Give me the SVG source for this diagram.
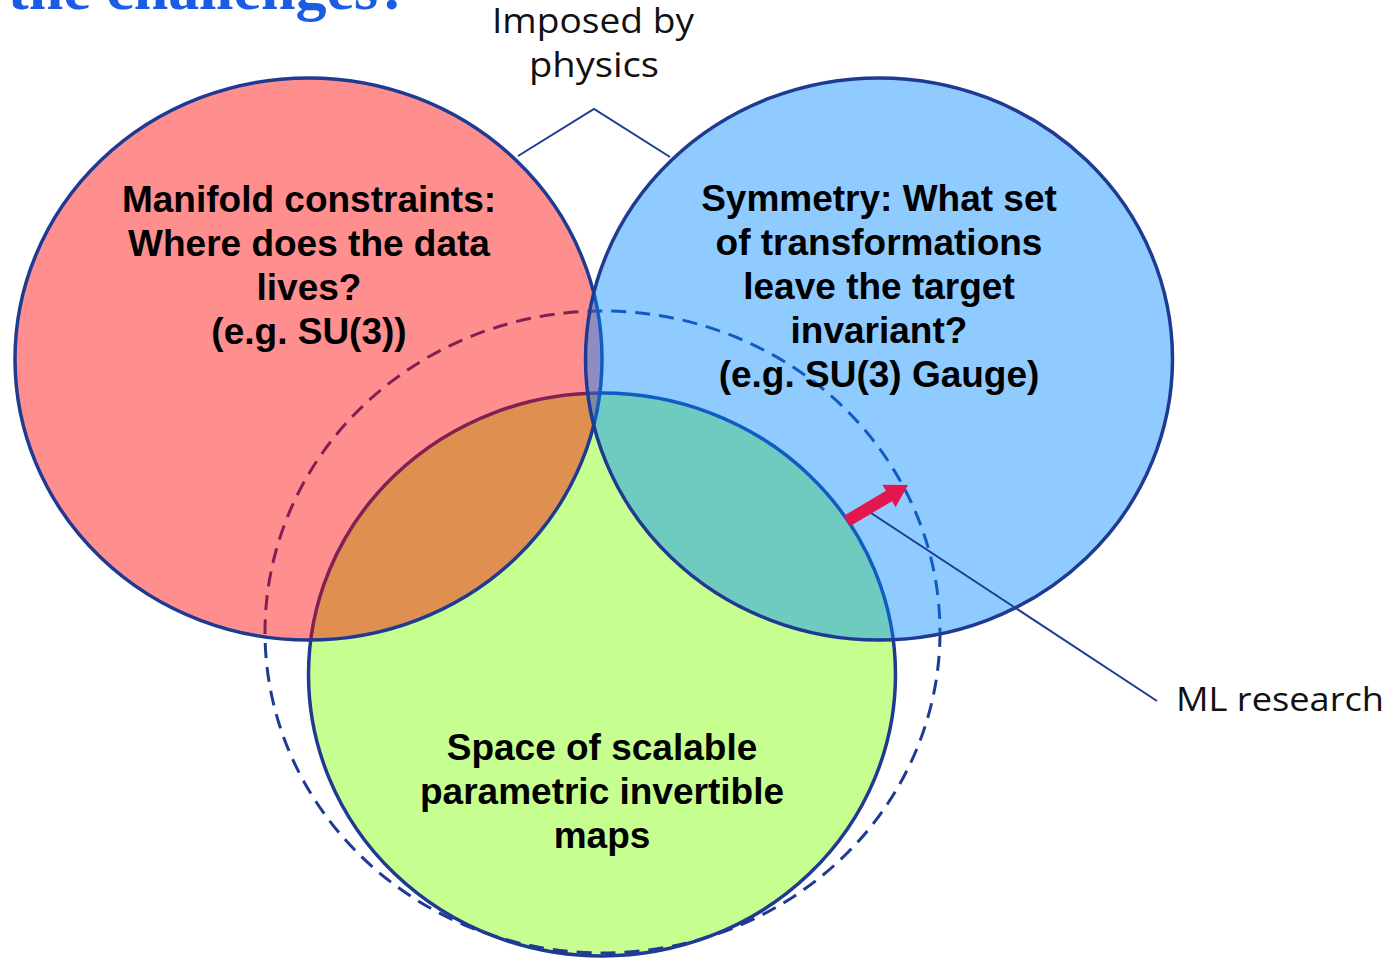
<svg xmlns="http://www.w3.org/2000/svg" width="1394" height="958" viewBox="0 0 1394 958">
<style>
.lbl{font-family:"Liberation Sans",Arial,sans-serif;font-weight:bold;font-size:37px;fill:#000;text-anchor:middle}
.note{font-family:"Open Sans","Noto Sans",sans-serif;fill:#111;}
.edge{stroke:#1f3a93;stroke-width:3.5}
.conn{fill:none;stroke:#1f3a93;stroke-width:2}
</style>
<rect width="1394" height="958" fill="#ffffff"/>
<text x="8" y="9" font-family="Liberation Serif,serif" font-weight="bold" font-size="62" fill="#1a5ce6">the challenges?</text>
<g id="maps">
<ellipse cx="602" cy="674.5" rx="293.5" ry="281.5" fill="#c6ff8f" class="edge"/>
</g>
<g id="ml-research-scope">
<ellipse cx="602.5" cy="632" rx="337.5" ry="321" fill="none" stroke="#1f3a93" stroke-width="3" stroke-dasharray="15 9"/>
</g>
<g id="manifold">
<ellipse cx="308.5" cy="359" rx="293.5" ry="281" fill="rgba(255,0,0,0.44)" class="edge"/>
</g>
<g id="symmetry">
<ellipse cx="879" cy="359" rx="293.5" ry="281" fill="rgba(0,136,255,0.44)" class="edge"/>
</g>
<g id="connectors">
<polyline class="conn" points="518,156 594,109 670,157"/>
<line class="conn" x1="868" y1="511" x2="1157" y2="701"/>
<polygon fill="#e3174e" points="844,515.8 885.95,490.83 882.4,484.8 908,485 895.6,507.2 892.05,501.17 850,526.2"/>
</g>
<g id="manifold-label">
<text class="lbl" x="309" y="212">Manifold constraints:</text>
<text class="lbl" x="309" y="256">Where does the data</text>
<text class="lbl" x="309" y="300">lives?</text>
<text class="lbl" x="309" y="344">(e.g. SU(3))</text>
</g>
<g id="symmetry-label">
<text class="lbl" x="879" y="211">Symmetry: What set</text>
<text class="lbl" x="879" y="255">of transformations</text>
<text class="lbl" x="879" y="299">leave the target</text>
<text class="lbl" x="879" y="343">invariant?</text>
<text class="lbl" x="879" y="387">(e.g. SU(3) Gauge)</text>
</g>
<g id="maps-label">
<text class="lbl" x="602" y="760">Space of scalable</text>
<text class="lbl" x="602" y="804">parametric invertible</text>
<text class="lbl" x="602" y="848">maps</text>
</g>
<g id="imposed-by-physics">
<text class="note" x="492" y="33" font-size="35" textLength="202" lengthAdjust="spacingAndGlyphs">Imposed by</text>
<text class="note" x="529" y="77" font-size="35" textLength="130" lengthAdjust="spacingAndGlyphs">physics</text>
</g>
<g id="ml-research">
<text class="note" x="1176" y="711" font-size="33" textLength="208" lengthAdjust="spacingAndGlyphs">ML research</text>
</g>
</svg>
